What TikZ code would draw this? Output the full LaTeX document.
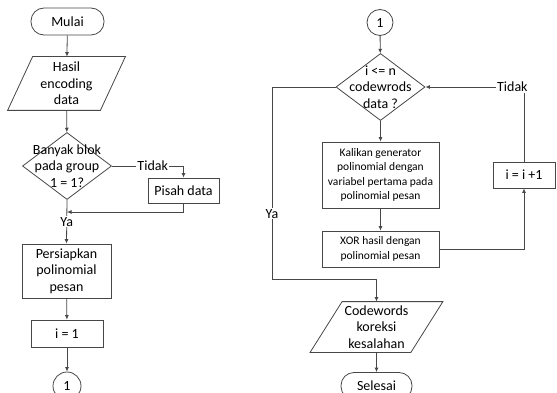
\documentclass[tikz,border=0pt]{standalone}
\usepackage{fontspec}
\setmainfont{Carlito}
\usetikzlibrary{arrows.meta,shapes.geometric}
\newcommand\iopath[2]{\draw[draw=black!72] ([xshift=#2]#1.north west) -- ([xshift=#2]#1.north east) -- ([xshift=-#2]#1.south east) -- ([xshift=-#2]#1.south west) -- cycle;}
\begin{document}
\begin{tikzpicture}[x=1pt,y=-1pt,line width=0.8pt,
  every node/.style={font=\fontsize{14}{16.5}\selectfont, align=center, text=black},
  box/.style={draw=black!72, rectangle, inner sep=0pt},
  term/.style={draw=black!72, rectangle, rounded corners=13pt, inner sep=0pt, minimum height=27pt},
  dec/.style={draw=black!72, diamond, inner sep=0pt, minimum width=89pt, minimum height=67pt},
  conn/.style={draw=black!72, circle, inner sep=0pt, minimum size=26pt},
  io/.style={inner sep=0pt},
  arr/.style={draw=black!72, -{Latex[length=4.5pt,width=4pt]}},
  lab/.style={fill=white, inner sep=1pt},
  small/.style={font=\fontsize{11.5}{14.3}\selectfont}]
\useasboundingbox (0,0) rectangle (557,393);
% left column
\node[term, minimum width=73pt] (mulai) at (67.5,21.5) {Mulai};
\node[io, minimum width=92pt, minimum height=53pt] (hasil) at (66.5,83.5) {Hasil\\encoding\\data};
\iopath{hasil}{12.5pt}
\node[dec, label={center:{Banyak blok\\pada group\\1 = 1?}}] (d1) at (67,166) {};
\node[box, minimum width=71pt, minimum height=25pt] (pisah) at (183.5,190.5) {Pisah data};
\node[box, minimum width=89pt, minimum height=54pt] (siap) at (66.5,271) {Persiapkan\\polinomial\\pesan};
\node[box, minimum width=72pt, minimum height=27pt] (i1) at (67,333.5) {i = 1};
\node[conn, minimum size=28pt] (c2) at (67,386) {1};
\coordinate (m1) at (67,212);
\draw[arr] (mulai) -- (hasil);
\draw[arr] (hasil) -- (d1);
\draw[arr] (d1.east) -| node[lab, pos=0.285] {Tidak} (pisah.north);
\draw[arr] (pisah.south) |- (m1);
\draw[arr] (d1.south) -- node[lab, pos=0.5] {Ya} (siap.north);
\draw[arr] (siap) -- (i1);
\draw[arr] (i1) -- (c2);
% right column
\node[conn] (c1) at (380,22.5) {1};
\node[dec, label={center:{i <= n\\codewrods\\data ?}}] (d2) at (380.5,87) {};
\node[box, small, minimum width=117pt, minimum height=66pt] (kali) at (380.5,175) {Kalikan generator\\polinomial dengan\\variabel pertama pada\\polinomial pesan};
\node[box, small, minimum width=117pt, minimum height=36pt] (xor) at (380.5,249) {XOR hasil dengan\\polinomial pesan};
\node[box, minimum width=62pt, minimum height=26pt] (inc) at (524,175) {i = i +1};
\node[io, minimum width=100pt, minimum height=50pt] (code) at (376.5,327) {Codewords\\koreksi\\kesalahan};
\iopath{code}{16pt}
\node[term, minimum width=71pt] (selesai) at (376.5,386) {Selesai};
\coordinate (r1) at (272,279);
\draw[arr] (c1) -- (d2);
\draw[arr] (d2) -- (kali);
\draw[arr] (kali) -- (xor);
\draw[arr] (xor.east) -| (inc.south);
\draw[arr] (inc.north) |- node[lab, pos=0.5, anchor=east, xshift=5pt] {Tidak} (d2.east);
\draw[arr] (d2.west) -| node[lab, pos=0.83] {Ya} (r1) -| (code.north);
\draw[arr] (code.south) -- (selesai.north);
\end{tikzpicture}
\end{document}
